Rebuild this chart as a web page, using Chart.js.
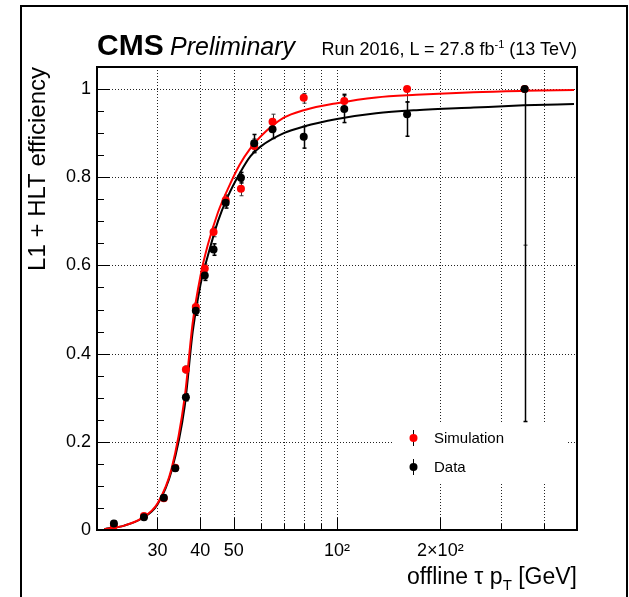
<!DOCTYPE html>
<html>
<head>
<meta charset="utf-8">
<script src="https://cdn.jsdelivr.net/npm/chart.js@4.4.1/dist/chart.umd.min.js"></script>
<style>
  html, body { margin: 0; padding: 0; background: #fff; }
  #wrap { position: relative; width: 629px; height: 597px; overflow: hidden;
          font-family: "Liberation Sans", Arial, Helvetica, sans-serif; color: #000; }
  #plot { position: absolute; left: 0; top: 0; }
  .pad { position: absolute; left: 20px; top: 5px; width: 608px; height: 640px;
         border: 2px solid #000; box-sizing: border-box; pointer-events: none; }
  .txt { position: absolute; white-space: nowrap; line-height: 1; }
  .cms { left: 97px; top: 30px; font-size: 30px; font-weight: bold; }
  .prel { left: 170px; top: 34px; font-size: 25px; font-style: italic; }
  .lumi { right: 52px; top: 40px; font-size: 18px; }
  .lumi sup { font-size: 11px; vertical-align: 7px; line-height: 0; }
  .xtitle { right: 52px; top: 565px; font-size: 23px; }
  .xtitle sub { font-size: 15px; vertical-align: -6px; line-height: 0; }
</style>
</head>
<body>
<div id="wrap">
  <canvas id="plot" width="629" height="597"></canvas>
  <div class="pad"></div>
  <div class="txt cms">CMS</div>
  <div class="txt prel">Preliminary</div>
  <div class="txt lumi">Run 2016, L = 27.8 fb<sup>-1</sup> (13 TeV)</div>
  <div class="txt xtitle">offline τ p<sub>T</sub> [GeV]</div>
</div>
<script>
// offline tau pT bin centres [GeV]
const ptBins = [22.4, 27.4, 31.3, 33.8, 36.3, 38.8, 41.2, 43.7, 47.4, 52.5, 57.4, 64.9, 80, 105, 160, 352];

// measured efficiencies
const effSim  = [0.009, 0.032, 0.072, 0.141, 0.364, 0.506, 0.593, 0.676, 0.748, 0.774, 0.871, 0.926, 0.980, 0.973, 1.000, 1.000];
const effData = [0.015, 0.029, 0.073, 0.140, 0.301, 0.497, 0.577, 0.636, 0.742, 0.799, 0.877, 0.909, 0.892, 0.955, 0.943, 1.000];

// asymmetric uncertainties
const errSimLo  = [0.004, 0.005, 0.005, 0.006, 0.008, 0.009, 0.010, 0.011, 0.012, 0.016, 0.016, 0.017, 0.012, 0.013, 0.030, 0.354];
const errSimHi  = [0.004, 0.005, 0.005, 0.006, 0.008, 0.009, 0.010, 0.011, 0.012, 0.016, 0.016, 0.017, 0.010, 0.012, 0.000, 0.000];
const errDataLo = [0.005, 0.005, 0.006, 0.006, 0.008, 0.010, 0.011, 0.013, 0.012, 0.012, 0.020, 0.021, 0.026, 0.031, 0.050, 0.754];
const errDataHi = [0.005, 0.005, 0.006, 0.006, 0.008, 0.010, 0.011, 0.013, 0.012, 0.012, 0.020, 0.021, 0.023, 0.033, 0.028, 0.000];

// fitted turn-on curves
const fitPt   = [21, 24, 27, 30, 33, 36, 38, 40, 42, 45, 48, 52, 56, 60, 70, 80, 100, 130, 170, 250, 350, 490];
const fitSim  = [0.002, 0.010, 0.027, 0.060, 0.140, 0.300, 0.470, 0.575, 0.645, 0.720, 0.772, 0.828, 0.866, 0.893, 0.935, 0.952, 0.968, 0.981, 0.987, 0.993, 0.996, 0.998];
const fitData = [0.002, 0.010, 0.026, 0.058, 0.135, 0.280, 0.450, 0.555, 0.620, 0.700, 0.755, 0.808, 0.848, 0.870, 0.900, 0.915, 0.932, 0.945, 0.952, 0.958, 0.963, 0.966];

// axes
const xTickVals = [30, 40, 50, 100, 200];
const xGridVals = [30, 40, 50, 60, 70, 80, 90, 100, 200, 300, 400];
const yGridVals = [0.2, 0.4, 0.6, 0.8, 1.0];
const legendLabels = ['Simulation', 'Data'];

const FONT = '"Liberation Sans", Arial, Helvetica, sans-serif';
const RED = '#ff0000';

const toXY = (xs, ys) => xs.map((x, i) => ({ x, y: ys[i] }));

// grid, inner ticks and error bars, drawn under the markers
const rootFrame = {
    id: 'rootFrame',
    beforeDatasetsDraw(chart) {
        const { ctx, chartArea: a, scales: { x, y } } = chart;
        ctx.save();
        ctx.strokeStyle = '#222';
        ctx.lineWidth = 1;
        ctx.setLineDash([1, 2]);
        xGridVals.forEach(v => {
            const px = Math.round(x.getPixelForValue(v)) + 0.5;
            ctx.beginPath(); ctx.moveTo(px, a.top); ctx.lineTo(px, a.bottom); ctx.stroke();
        });
        yGridVals.forEach(v => {
            const py = Math.round(y.getPixelForValue(v)) + 0.5;
            ctx.beginPath(); ctx.moveTo(a.left, py); ctx.lineTo(a.right, py); ctx.stroke();
        });
        ctx.setLineDash([]);
        ctx.strokeStyle = '#000';
        for (let i = 0; i <= 20; i++) {
            const v = i * 0.05;
            const py = Math.round(y.getPixelForValue(v)) + 0.5;
            const len = i % 4 === 0 ? 13 : 7;
            ctx.beginPath(); ctx.moveTo(a.left, py); ctx.lineTo(a.left + len, py); ctx.stroke();
        }
        xGridVals.forEach(v => {
            const px = Math.round(x.getPixelForValue(v)) + 0.5;
            const len = xTickVals.includes(v) ? 12 : 6;
            ctx.beginPath(); ctx.moveTo(px, a.bottom); ctx.lineTo(px, a.bottom - len); ctx.stroke();
        });

        // error bars: simulation first, data on top
        chart.data.datasets.slice().reverse().forEach(ds => {
            if (!ds.errLo) return;
            ctx.strokeStyle = ds.barColor;
            ctx.lineWidth = ds.barWidth;
            ds.data.forEach((p, i) => {
                const px = Math.round(x.getPixelForValue(p.x)) + 0.5;
                const yLo = y.getPixelForValue(p.y - ds.errLo[i]);
                const yHi = y.getPixelForValue(p.y + ds.errHi[i]);
                ctx.beginPath(); ctx.moveTo(px, yLo); ctx.lineTo(px, yHi); ctx.stroke();
                [yLo, yHi].forEach(py => {
                    ctx.beginPath(); ctx.moveTo(px - 2, py); ctx.lineTo(px + 2, py); ctx.stroke();
                });
            });
        });
        ctx.restore();
    },
    afterDraw(chart) {
        const { ctx, chartArea: a } = chart;
        ctx.save();
        // legend box
        ctx.fillStyle = '#fff';
        ctx.fillRect(394, 424, 172, 60);
        const rows = [{ c: RED, y: 438 }, { c: '#000', y: 467 }];
        rows.forEach((r, i) => {
            ctx.strokeStyle = '#000';
            ctx.lineWidth = 1;
            ctx.beginPath(); ctx.moveTo(413.5, r.y - 8); ctx.lineTo(413.5, r.y + 8); ctx.stroke();
            ctx.fillStyle = r.c;
            ctx.beginPath(); ctx.arc(413.5, r.y, 4, 0, Math.PI * 2); ctx.fill();
            ctx.fillStyle = '#000';
            ctx.font = '15px ' + FONT;
            ctx.textBaseline = 'middle';
            ctx.fillText(legendLabels[i], 434, r.y + 1);
        });
        // frame
        ctx.strokeStyle = '#000';
        ctx.lineWidth = 2;
        ctx.strokeRect(a.left, a.top, a.right - a.left, a.bottom - a.top);
        ctx.restore();
    }
};

new Chart(document.getElementById('plot'), {
    type: 'scatter',
    data: {
        datasets: [
            {
                label: 'Data',
                data: toXY(ptBins, effData),
                errLo: errDataLo, errHi: errDataHi, barColor: '#000', barWidth: 1.5,
                backgroundColor: '#000', pointRadius: 4, pointBorderWidth: 0,
                order: 0
            },
            {
                label: 'Simulation',
                data: toXY(ptBins, effSim),
                errLo: errSimLo, errHi: errSimHi, barColor: '#333', barWidth: 1,
                backgroundColor: RED, pointRadius: 4, pointBorderWidth: 0,
                order: 1
            },
            {
                label: 'fit sim',
                data: toXY(fitPt, fitSim),
                showLine: true, borderColor: RED, borderWidth: 2, pointRadius: 0,
                cubicInterpolationMode: 'monotone',
                order: 2
            },
            {
                label: 'fit data',
                data: toXY(fitPt, fitData),
                showLine: true, borderColor: '#000', borderWidth: 2, pointRadius: 0,
                cubicInterpolationMode: 'monotone',
                order: 3
            }
        ]
    },
    options: {
        responsive: false,
        animation: false,
        events: [],
        layout: { padding: { left: 20, right: 52, top: 67, bottom: 0 } },
        plugins: { legend: { display: false }, tooltip: { enabled: false } },
        scales: {
            x: {
                type: 'logarithmic',
                min: 20, max: 500,
                grid: { display: false, drawTicks: false },
                border: { display: false },
                afterFit: s => { s.height = 67; },
                afterBuildTicks: s => { s.ticks = xTickVals.map(v => ({ value: v })); },
                ticks: {
                    autoSkip: false, maxRotation: 0, padding: 10, color: '#000',
                    font: { family: FONT, size: 18 },
                    callback: v => v === 100 ? '10²' : v === 200 ? '2×10²' : String(v)
                }
            },
            y: {
                min: 0, max: 1.05,
                grid: { display: false, drawTicks: false },
                border: { display: false },
                afterFit: s => { s.width = 77; },
                ticks: {
                    stepSize: 0.2, includeBounds: false, padding: 6, color: '#000',
                    font: { family: FONT, size: 18 },
                    callback: v => String(+v.toFixed(1))
                },
                title: {
                    display: true, text: 'L1 + HLT efficiency', align: 'end',
                    color: '#000', padding: { top: 4, bottom: 0 },
                    font: { family: FONT, size: 24 }
                }
            }
        }
    },
    plugins: [rootFrame]
});
</script>
</body>
</html>
